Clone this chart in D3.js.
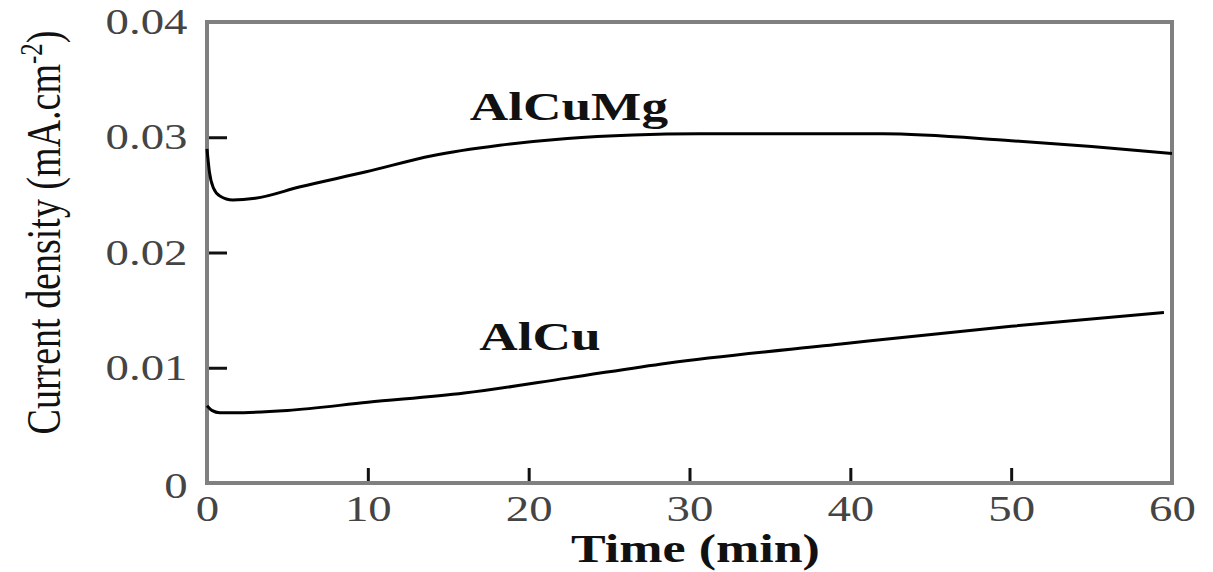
<!DOCTYPE html>
<html>
<head>
<meta charset="utf-8">
<script src="https://cdn.jsdelivr.net/npm/d3@7"></script>
<style>
  html, body { margin: 0; padding: 0; background: #fff; }
  svg { display: block; }
  text { font-family: "Liberation Serif", "Times New Roman", serif; }
</style>
</head>
<body>
<div id="chart"></div>
<script>
// Data
const timeAlCuMg = [0, 0.15, 0.4, 0.8, 1.6, 3, 5.8, 9.9, 14, 18.2, 22.4, 26.5, 30.6, 36, 42, 50, 55, 60];
const currentAlCuMg = [0.0290, 0.0270, 0.0256, 0.0249, 0.02455, 0.0247, 0.0257, 0.0270, 0.0284, 0.0293, 0.0299, 0.0302, 0.0303, 0.0303, 0.0303, 0.0297, 0.0292, 0.0286];

const timeAlCu = [0, 0.3, 0.8, 1.6, 5, 10, 16, 22.4, 28.6, 39.7, 50, 59.5];
const currentAlCu = [0.0067, 0.0063, 0.0061, 0.0061, 0.0063, 0.0070, 0.0078, 0.0091, 0.0104, 0.0121, 0.0136, 0.0148];

const xTicks = [0, 10, 20, 30, 40, 50, 60];
const yTicks = [0.01, 0.02, 0.03, 0.04];
const seriesNames = ['AlCuMg', 'AlCu'];

const width = 1213, height = 572;
const margin = { top: 22, right: 41, bottom: 89, left: 207 };
const stretch = 1.3; // the source glyphs are widened horizontally

const svg = d3.select('#chart').append('svg')
  .attr('width', width)
  .attr('height', height);

const x = d3.scaleLinear().domain([0, 60]).range([margin.left, width - margin.right]);
const y = d3.scaleLinear().domain([0, 0.04]).range([height - margin.bottom, margin.top]);

// Y axis (inward ticks)
const yAxis = svg.append('g')
  .attr('transform', `translate(${margin.left},0)`)
  .call(d3.axisLeft(y).tickValues(yTicks).tickSizeInner(-20).tickSizeOuter(0).tickPadding(15)
    .tickFormat(d3.format('.2f')));
yAxis.select('.domain').remove();
yAxis.selectAll('.tick line').attr('stroke', '#111').attr('stroke-width', 3)
  .filter(d => d === 0.04).remove();
yAxis.selectAll('.tick text')
  .attr('font-size', 36).attr('fill', '#444')
  .attr('transform', `scale(${stretch},1)`);

// X axis (inward ticks)
const xAxis = svg.append('g')
  .attr('transform', `translate(0,${y(0)})`)
  .call(d3.axisBottom(x).tickValues(xTicks).tickSizeInner(-15).tickSizeOuter(0).tickPadding(12));
xAxis.select('.domain').remove();
xAxis.selectAll('.tick line').attr('stroke', '#111').attr('stroke-width', 3)
  .filter(d => d === 0 || d === 60).remove();
xAxis.selectAll('.tick text')
  .attr('font-size', 36).attr('fill', '#444')
  .attr('transform', `scale(${stretch},1)`);

// Y zero label sits apart from the axis labels
svg.append('text')
  .attr('transform', `translate(${x(0) - 31},${y(0) + 2}) scale(${stretch},1)`)
  .attr('text-anchor', 'middle')
  .attr('dy', '0.35em')
  .attr('font-size', 36).attr('fill', '#444')
  .text('0');

// Frame
svg.append('rect')
  .attr('x', x(0)).attr('y', y(0.04))
  .attr('width', x(60) - x(0)).attr('height', y(0) - y(0.04))
  .attr('fill', 'none').attr('stroke', '#808080').attr('stroke-width', 4);

// Curves
const line = d3.line()
  .x(d => x(d[0]))
  .y(d => y(d[1]))
  .curve(d3.curveMonotoneX);

const series = [
  d3.zip(timeAlCuMg, currentAlCuMg),
  d3.zip(timeAlCu, currentAlCu)
];

svg.append('g').selectAll('path')
  .data(series)
  .enter().append('path')
  .attr('d', line)
  .attr('fill', 'none')
  .attr('stroke', '#000')
  .attr('stroke-width', 3);

// Series labels
const labelPos = [[22.5, 0.0315], [20.7, 0.0115]];
svg.selectAll('.series-label')
  .data(seriesNames)
  .enter().append('text')
  .attr('class', 'series-label')
  .attr('transform', (d, i) => `translate(${x(labelPos[i][0])},${y(labelPos[i][1])}) scale(${stretch},1)`)
  .attr('text-anchor', 'middle')
  .attr('font-size', 41).attr('font-weight', 'bold').attr('fill', '#111')
  .text(d => d);

// Axis titles
svg.append('text')
  .attr('transform', `translate(${(x(0) + x(60)) / 2 + 6},${height - 10}) scale(${stretch},1)`)
  .attr('text-anchor', 'middle')
  .attr('font-size', 40).attr('font-weight', 'bold').attr('fill', '#111')
  .text('Time (min)');

const yTitle = svg.append('text')
  .attr('transform', `translate(60,${(y(0) + y(0.04)) / 2 - 20}) rotate(-90) scale(1,${stretch})`)
  .attr('text-anchor', 'middle')
  .attr('font-size', 38).attr('fill', '#111');
yTitle.append('tspan').text('Current density (mA.cm');
yTitle.append('tspan').attr('baseline-shift', 'super').attr('font-size', 25).text('-2');
yTitle.append('tspan').text(')');
</script>
</body>
</html>
